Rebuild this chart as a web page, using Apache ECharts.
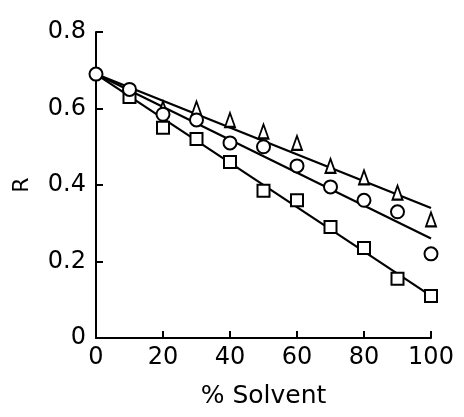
<!DOCTYPE html>
<html>
<head>
<meta charset="utf-8">
<script src="https://cdn.jsdelivr.net/npm/echarts@6/dist/echarts.min.js"></script>
<style>
  html, body { margin: 0; padding: 0; background: #fff; }
  #chart { width: 464px; height: 417px; }
</style>
</head>
<body>
<div id="chart"></div>
<script>
// measured points (% solvent, R)
const triX = [20, 30, 40, 50, 60, 70, 80, 90, 100];
const triY = [0.60, 0.60, 0.57, 0.54, 0.51, 0.45, 0.42, 0.38, 0.31];
const cirX = [0, 10, 20, 30, 40, 50, 60, 70, 80, 90, 100];
const cirY = [0.69, 0.65, 0.585, 0.57, 0.51, 0.50, 0.45, 0.395, 0.36, 0.33, 0.22];
const sqX = [10, 20, 30, 40, 50, 60, 70, 80, 90, 100];
const sqY = [0.63, 0.55, 0.52, 0.46, 0.385, 0.36, 0.29, 0.235, 0.155, 0.11];

// fitted lines: start/end R at 0 and 100 %
const fitX = [0, 100];
const triFit = [0.69, 0.34];
const cirFit = [0.69, 0.26];
const sqFit = [0.69, 0.11];

const xTicks = [0, 20, 40, 60, 80, 100];
const yTicks = [0, 0.2, 0.4, 0.6, 0.8];

const zip = (xs, ys) => xs.map((x, i) => [x, ys[i]]);
const font = 'DejaVu Sans';

const chart = echarts.init(document.getElementById('chart'));

const fitLine = (ys) => ({
  type: 'line',
  data: zip(fitX, ys),
  symbol: 'none',
  lineStyle: { color: '#000', width: 2.2 },
  z: 2,
  animation: false
});

const marks = (xs, ys, symbol, size) => ({
  type: 'scatter',
  data: zip(xs, ys),
  symbol,
  symbolSize: size,
  itemStyle: { color: '#fff', borderColor: '#000', borderWidth: 2, opacity: 1 },
  z: 3,
  animation: false
});

chart.setOption({
  animation: false,
  backgroundColor: '#fff',
  grid: { left: 96, right: 33, top: 32, bottom: 79 },
  xAxis: {
    type: 'value',
    min: 0,
    max: 100,
    interval: 20,
    name: '% Solvent',
    nameLocation: 'middle',
    nameGap: 46,
    nameTextStyle: { fontFamily: font, fontSize: 25, color: '#000' },
    axisLine: { lineStyle: { color: '#000', width: 2 } },
    axisTick: { inside: true, length: 7, lineStyle: { color: '#000', width: 2 } },
    axisLabel: {
      fontFamily: font, fontSize: 24, color: '#000', margin: 8,
      formatter: v => xTicks.includes(v) ? String(v) : ''
    },
    splitLine: { show: false }
  },
  yAxis: {
    type: 'value',
    min: 0,
    max: 0.8,
    interval: 0.2,
    name: 'R',
    nameLocation: 'middle',
    nameGap: 63,
    nameRotate: 90,
    nameTextStyle: { fontFamily: font, fontSize: 22, color: '#000' },
    axisLine: { lineStyle: { color: '#000', width: 2 } },
    axisTick: { inside: true, length: 7, lineStyle: { color: '#000', width: 2 } },
    axisLabel: {
      fontFamily: font, fontSize: 24, color: '#000', margin: 10,
      formatter: v => {
        const t = yTicks.find(k => Math.abs(k - v) < 1e-6);
        if (t === undefined) return '';
        return t === 0 ? '0' : t.toFixed(1);
      }
    },
    splitLine: { show: false }
  },
  series: [
    fitLine(triFit),
    fitLine(cirFit),
    fitLine(sqFit),
    marks(sqX, sqY, 'rect', 12),
    marks(triX, triY, 'triangle', [10, 14]),
    marks(cirX, cirY, 'circle', 13)
  ]
});
</script>
</body>
</html>
